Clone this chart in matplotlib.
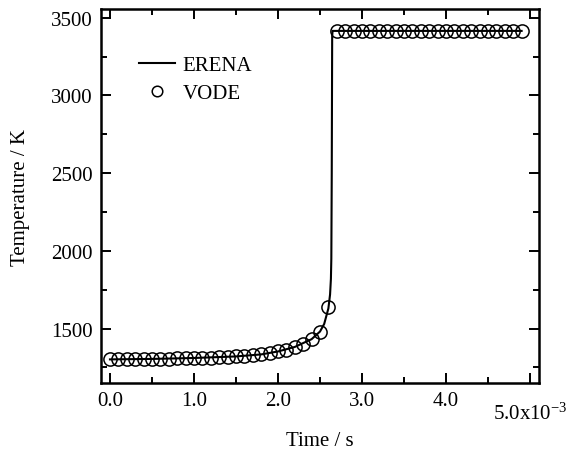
import matplotlib
matplotlib.use("Agg")
import matplotlib.pyplot as plt
import numpy as np
from matplotlib.ticker import MultipleLocator

plt.rcParams['font.family'] = ['Liberation Serif', 'DejaVu Serif']
plt.rcParams['mathtext.fontset'] = 'stix'

# time in units of 1e-3 s
vode_t = [0.0, 0.1, 0.2, 0.3, 0.4, 0.5, 0.6, 0.7, 0.8, 0.9,
          1.0, 1.1, 1.2, 1.3, 1.4, 1.5, 1.6, 1.7, 1.8, 1.9,
          2.0, 2.1, 2.2, 2.3, 2.4, 2.5, 2.6,
          2.7, 2.8, 2.9, 3.0, 3.1, 3.2, 3.3, 3.4, 3.5, 3.6, 3.7, 3.8, 3.9,
          4.0, 4.1, 4.2, 4.3, 4.4, 4.5, 4.6, 4.7, 4.8, 4.9]
vode_T = [1303, 1303, 1303, 1304, 1304, 1305, 1306, 1307, 1308, 1309,
          1311, 1312, 1314, 1316, 1318, 1321, 1324, 1328, 1334, 1342,
          1353, 1365, 1382, 1403, 1432, 1481, 1636,
          3415, 3415, 3415, 3415, 3415, 3415, 3415, 3415, 3415, 3415, 3415, 3415, 3415,
          3415, 3415, 3415, 3415, 3415, 3415, 3415, 3415, 3415, 3415]

erena_t = [0.0, 0.5, 1.0, 1.5, 1.8, 2.0, 2.2, 2.4, 2.5, 2.55, 2.6, 2.62,
           2.63, 2.635, 2.64, 2.645, 2.65, 3.5, 4.9]
erena_T = [1302, 1305, 1311, 1321, 1334, 1353, 1382, 1432, 1481, 1530, 1630, 1720,
           1820, 1950, 2500, 3380, 3415, 3415, 3415]

xticks = [0, 1, 2, 3, 4, 5]
xticklabels = ['0.0', '1.0', '2.0', '3.0', '4.0', '']

fig = plt.figure(figsize=(5.66, 4.52), dpi=100)
ax = fig.add_axes([0.1784, 0.1504, 0.7739, 0.8275])

ax.plot(erena_t, erena_T, color='black', lw=1.5, label='ERENA')
ax.plot(vode_t, vode_T, 'o', mfc='none', mec='black', mew=1.1, ms=9.5,
        label='VODE')

ax.set_xlim(-0.107, 5.107)
ax.set_ylim(1150, 3556)
ax.set_xticks(xticks)
ax.set_xticklabels(xticklabels)
ax.xaxis.set_minor_locator(MultipleLocator(0.5))
ax.yaxis.set_major_locator(MultipleLocator(500))
ax.yaxis.set_minor_locator(MultipleLocator(250))

ax.tick_params(which='both', direction='in', top=True, right=True,
               labelsize=15, width=1.4)
ax.tick_params(axis='x', pad=6)
ax.tick_params(axis='y', pad=6)
ax.tick_params(which='major', length=7)
ax.tick_params(which='minor', length=4)
for s in ax.spines.values():
    s.set_linewidth(1.8)

# exponent label sits under the 5.0 tick, a bit lower than the others
ax.annotate(r'5.0x10$^{\mathregular{-3}}$', xy=(5.0, 0), xycoords=('data', 'axes fraction'),
            xytext=(0, -26), textcoords='offset points', ha='center', va='baseline',
            fontsize=15, annotation_clip=False)

ax.set_xlabel('Time / s', fontsize=15, labelpad=15)
ax.set_ylabel('Temperature / K', fontsize=15, labelpad=15)

leg = ax.legend(loc='upper left', bbox_to_anchor=(0.043, 0.925), frameon=False,
                fontsize=15, handlelength=1.75, handletextpad=0.35,
                labelspacing=0.4, markerscale=0.8)

fig.savefig('out.png', dpi=100)
